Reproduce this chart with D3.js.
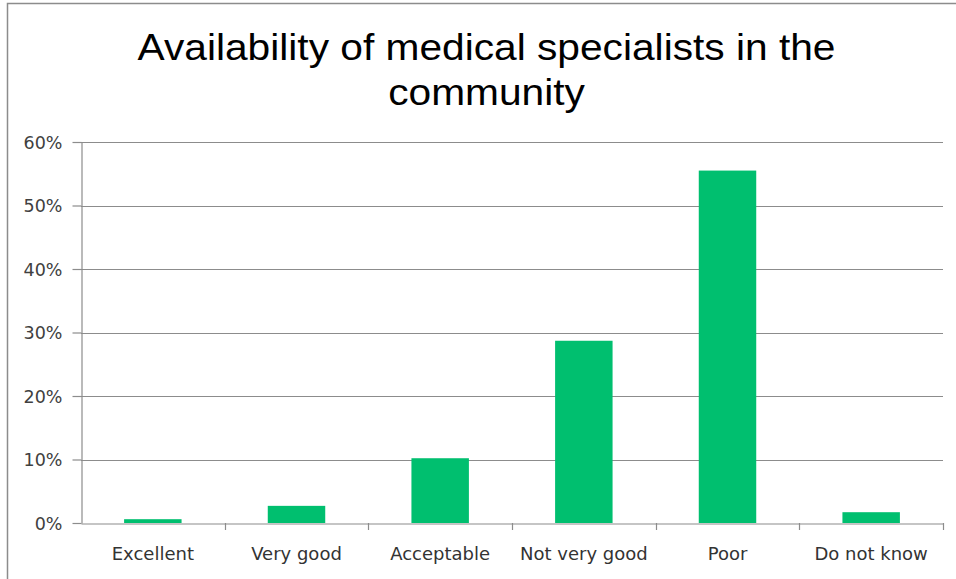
<!DOCTYPE html>
<html><head><meta charset="utf-8">
<script src="https://cdn.jsdelivr.net/npm/d3@7"></script>
<style>body{margin:0;background:#fff}svg{display:block}</style>
</head><body>
<script>
const categories = ["Excellent","Very good","Acceptable","Not very good","Poor","Do not know"];
const values = [0.006, 0.027, 0.102, 0.287, 0.555, 0.017];
const yTicks = [0, 0.1, 0.2, 0.3, 0.4, 0.5, 0.6];
const titleLines = ["Availability of medical specialists in the","community"];

const W = 956, H = 579;
const svg = d3.select("body").append("svg").attr("width", W).attr("height", H);
svg.append("rect").attr("x",0).attr("y",0).attr("width",W).attr("height",H).attr("fill","#fff");
// chart border
svg.append("path").attr("d","M7.5,579 V3.5 H956").attr("fill","none").attr("stroke","#8c8c8c").attr("stroke-width",1.5);

const mLeft = 81, mRight = 943, mTop = 142, mBottom = 523;
const x = d3.scaleBand().domain(categories).range([mLeft, mRight]).padding(0);
const y = d3.scaleLinear().domain([0, 0.6]).range([mBottom, mTop]);

// gridlines
svg.append("g").selectAll("line").data(yTicks.filter(d=>d>0)).join("line")
  .attr("x1", mLeft).attr("x2", mRight)
  .attr("y1", d=>Math.round(y(d))+0.5).attr("y2", d=>Math.round(y(d))+0.5)
  .attr("stroke","#8c8c8c").attr("stroke-width",1.2);

// y axis
const yAxis = d3.axisLeft(y).tickValues(yTicks).tickFormat(d3.format(".0%")).tickSize(9).tickSizeOuter(0);
const gy = svg.append("g").attr("transform",`translate(${mLeft+0.5},0)`).call(yAxis);
gy.select(".domain").attr("stroke","#8c8c8c").attr("stroke-width",1.2);
gy.selectAll(".tick line").attr("stroke","#8c8c8c").attr("stroke-width",1.2);
gy.selectAll(".tick text").attr("font-family","'DejaVu Sans', sans-serif").attr("font-size",17.5)
  .attr("fill","#404040").attr("x",-19).attr("dy","0.36em");

// bars
const bw = x.bandwidth()*0.4;
svg.append("g").selectAll("rect").data(values).join("rect")
  .attr("x",(d,i)=>x(categories[i]) + (x.bandwidth()-bw)/2)
  .attr("width",bw)
  .attr("y",d=>y(d)).attr("height",d=>y(0)-y(d))
  .attr("fill","#00bf6f");

// x axis
const xAxis = d3.axisBottom(x).tickSize(0).tickSizeOuter(0);
const gx = svg.append("g").attr("transform",`translate(0,${mBottom+0.5})`).call(xAxis);
gx.select(".domain").attr("stroke","#8c8c8c").attr("stroke-width",1.2);
gx.selectAll(".tick text").attr("font-family","'DejaVu Sans', sans-serif").attr("font-size",18)
  .attr("fill","#333").attr("dy",0).attr("y",36.5);
// category boundary ticks
const bounds = categories.map(c=>x(c)).slice(1).concat([mRight]);
svg.append("g").selectAll("line").data(bounds).join("line")
  .attr("x1",d=>Math.round(d)+0.5).attr("x2",d=>Math.round(d)+0.5)
  .attr("y1",mBottom).attr("y2",mBottom+7)
  .attr("stroke","#8c8c8c").attr("stroke-width",1.2);

// title
svg.append("g").attr("transform","translate(486.5,0) scale(1.10,1)")
  .append("text").attr("x",0).attr("y",60).attr("text-anchor","middle")
  .attr("font-family","'Liberation Sans', Arial, sans-serif").attr("font-size",37).attr("fill","#000")
  .selectAll("tspan").data(titleLines).join("tspan")
  .attr("x",0).attr("dy",(d,i)=>i?45:0).text(d=>d);
</script>
</body></html>
